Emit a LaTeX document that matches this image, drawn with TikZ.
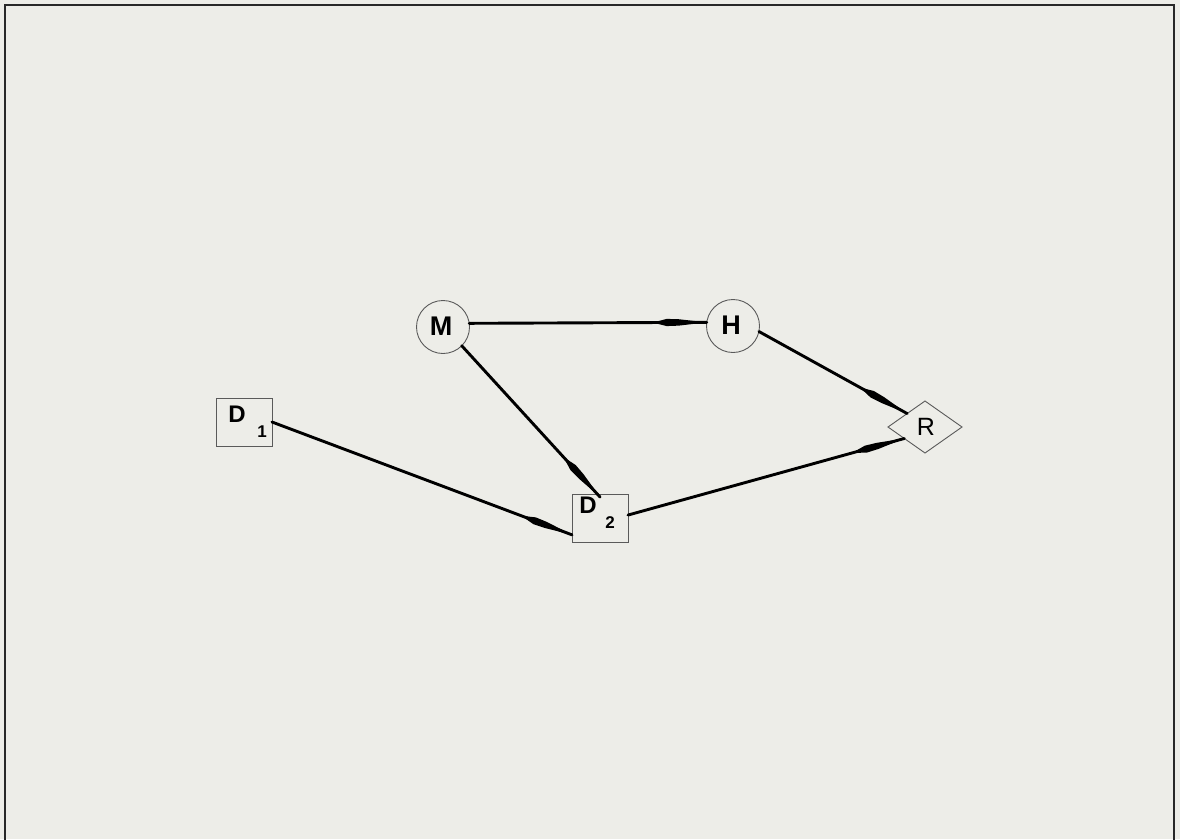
\documentclass[tikz,border=0pt]{standalone}
\usepackage{fontspec}
\setmainfont{Liberation Sans}
\usetikzlibrary{shapes.geometric,decorations.markings}
\definecolor{bg}{RGB}{237,237,232}
\definecolor{framec}{RGB}{40,40,40}
\definecolor{nodeline}{RGB}{90,90,90}
\tikzset{
  every node/.style={inner sep=0pt,outer sep=0pt},
  circnode/.style={circle,draw=nodeline,line width=0.9pt,fill=bg,minimum size=53pt},
  boxnode/.style={rectangle,draw=nodeline,line width=0.9pt,fill=bg,minimum width=56pt,minimum height=48pt},
  dianode/.style={diamond,draw=nodeline,line width=0.9pt,fill=bg,minimum width=74pt,minimum height=52pt,aspect=1.42},
  bigb/.style={font=\fontsize{27}{30}\selectfont\bfseries},
  dlabel/.style={font=\fontsize{24}{28}\selectfont\bfseries},
  sublabel/.style={font=\fontsize{17}{18}\selectfont\bfseries},
  rlabel/.style={font=\fontsize{25}{28}\selectfont},
  conn/.style={line width=2.9pt,black,line cap=round,
    postaction={decorate},
    decoration={markings,mark=at position 1 with {\fill[black] (0pt,0pt) -- (-28pt,3.2pt) -- (-40pt,3.6pt) -- (-54pt,0pt) -- (-40pt,-3.6pt) -- (-28pt,-3.2pt) -- cycle;}}},
}
\begin{document}
\begin{tikzpicture}[x=1pt,y=-1pt]
\useasboundingbox (0,0) rectangle (1180,839);
\fill[bg] (0,0) rectangle (1180,839);
\draw[framec,line width=2.8pt] (5,870) -- (5,5) -- (1174,5) -- (1174,870);
% nodes
\node[circnode] (m) at (443,327) {};
\node[circnode] (h) at (733,326) {};
\node[boxnode] (d1) at (244,422) {};
\node[boxnode] (d2) at (600,518) {};
\node[dianode] (r) at (925,427) {};
% labels
\node[bigb] (mt) at (441,326) {M};
\node[bigb] (ht) at (731,325) {H};
\node[rlabel] (rt) at (926,427) {R};
\node[dlabel] (d1t) at (237,414) {D};
\node[sublabel] (d1s) at (262,432) {1};
\node[dlabel] (d2t) at (588,505) {D};
\node[sublabel] (d2s) at (610,523) {2};
% connectors
\draw[conn] (m.8) -- (h.172);
\draw[conn] (m.-45) -- ([yshift=-3pt]d2.north);
\draw[conn] (d1.east) -- (d2.211);
\draw[conn] (d2.6) -- (r.209);
\draw[conn] (h.-12) -- (r.143);
\end{tikzpicture}
\end{document}
